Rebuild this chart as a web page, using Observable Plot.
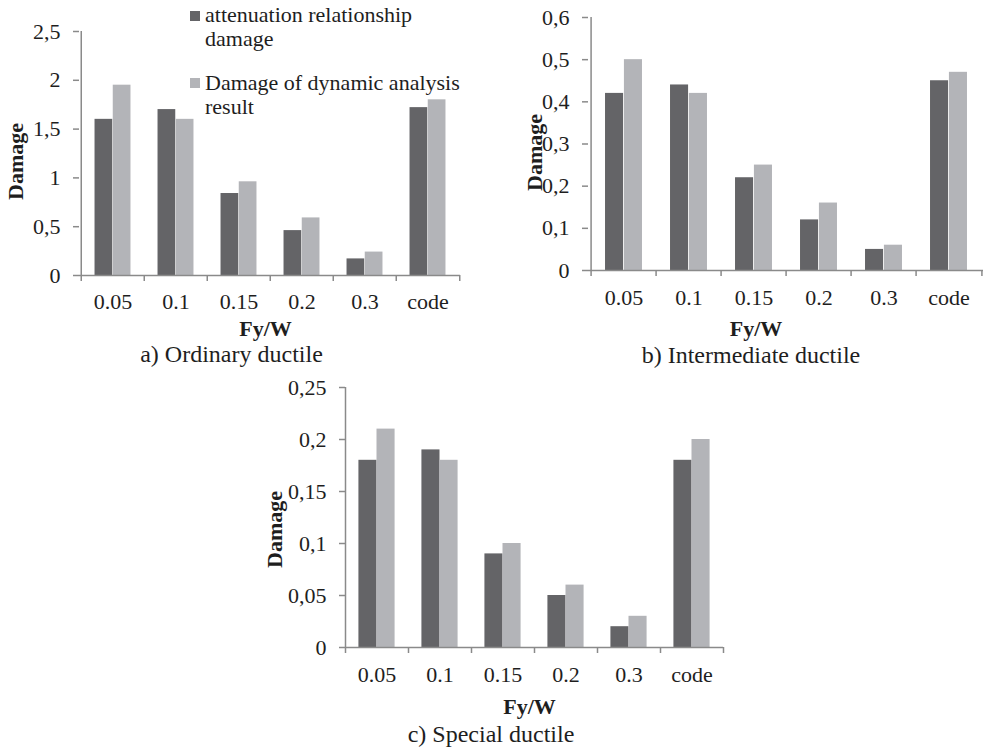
<!DOCTYPE html>
<html><head><meta charset="utf-8">
<script src="https://cdn.jsdelivr.net/npm/d3@7"></script>
<script src="https://cdn.jsdelivr.net/npm/@observablehq/plot@0.6"></script>
<style>
html,body{margin:0;padding:0;background:#fff;}
#root{position:relative;width:987px;height:748px;overflow:hidden;font-family:"Liberation Serif","Times New Roman",serif;color:#1e1e1e;}
.layer{position:absolute;left:0;top:0;width:987px;height:748px;}
.layer svg{background:transparent;}
.caption{position:absolute;font-size:24px;line-height:16px;text-align:center;white-space:nowrap;width:300px;}
.legend-item{position:absolute;font-size:22px;line-height:24px;width:262px;}
.swatch{position:absolute;width:10px;height:10px;}
</style></head><body><div id="root"></div>
<script>
// ---- data ----
const categories = ["0.05", "0.1", "0.15", "0.2", "0.3", "code"];
const seriesNames = ["attenuation relationship damage", "Damage of dynamic analysis result"];
const ordinaryAttenuation = [1.6, 1.7, 0.84, 0.46, 0.17, 1.72];
const ordinaryDynamic = [1.95, 1.6, 0.96, 0.59, 0.24, 1.8];
const intermediateAttenuation = [0.42, 0.44, 0.22, 0.12, 0.05, 0.45];
const intermediateDynamic = [0.5, 0.42, 0.25, 0.16, 0.06, 0.47];
const specialAttenuation = [0.18, 0.19, 0.09, 0.05, 0.02, 0.18];
const specialDynamic = [0.21, 0.18, 0.10, 0.06, 0.03, 0.20];
const ordinaryTicks = [0, 0.5, 1, 1.5, 2, 2.5];
const intermediateTicks = [0, 0.1, 0.2, 0.3, 0.4, 0.5, 0.6];
const specialTicks = [0, 0.05, 0.1, 0.15, 0.2, 0.25];
const captions = ["a) Ordinary ductile", "b) Intermediate ductile", "c) Special ductile"];
const xTitle = "Fy/W";
const yTitle = "Damage";

// ---- style ----
const colors = ["#646467", "#b3b4b8"];
const axisColor = "#8a8a8a";
const textColor = "#1e1e1e";
const FONT = "'Liberation Serif','Times New Roman',serif";
const W = 987, H = 748;
const fmt = d => d === 0 ? "0" : String(+d.toFixed(2)).replace(".", ",");

function panel(o) {
  const bw = (o.right - o.left) / categories.length;
  const rows = categories.map((c, i) => ({cat: c, att: o.att[i], dyn: o.dyn[i]}));
  const outer = bw * 0.213, barW = (bw - 2 * outer) / 2;
  return Plot.plot({
    width: W, height: H,
    marginLeft: o.left, marginRight: W - o.right, marginTop: o.top, marginBottom: H - o.bottom,
    style: {background: "transparent", fontFamily: FONT, fontSize: "22px", color: textColor},
    x: {type: "band", domain: categories, padding: 0},
    y: {domain: [0, o.ticks[o.ticks.length - 1]]},
    marks: [
      Plot.barY(rows, {x: "cat", y: "att", fill: colors[0], insetLeft: outer, insetRight: bw - outer - barW}),
      Plot.barY(rows, {x: "cat", y: "dyn", fill: colors[1], insetLeft: outer + barW, insetRight: outer}),
      Plot.ruleY([0], {stroke: axisColor, strokeWidth: 1.5}),
      Plot.ruleX([categories[0]], {dx: -bw / 2, stroke: axisColor, strokeWidth: 1.5}),
      Plot.ruleX(categories, {dx: -bw / 2, y1: 0, y2: 0, insetBottom: -6, stroke: axisColor, strokeWidth: 1.5}),
      Plot.ruleX([categories[categories.length - 1]], {dx: bw / 2, y1: 0, y2: 0, insetBottom: -6, stroke: axisColor, strokeWidth: 1.5}),
      Plot.axisY({ticks: o.ticks, tickSize: 6, tickPadding: 13, tickFormat: fmt, fontSize: 22, stroke: axisColor, strokeWidth: 1.5, fill: textColor, label: null}),
      Plot.axisX({tickSize: 0, tickPadding: o.xPad, fontSize: 22, fill: textColor, label: null}),
      Plot.text([xTitle], {frameAnchor: "bottom", dx: o.xtDx, dy: o.xtDy, fontWeight: "bold", fontSize: 22, fill: textColor, lineAnchor: "middle", textAnchor: "middle"}),
      Plot.text([yTitle], {frameAnchor: "left", rotate: -90, dx: o.ytDx, dy: o.ytDy, fontWeight: "bold", fontSize: 22, fill: textColor, lineAnchor: "middle", textAnchor: "middle"})
    ]
  });
}

const root = document.getElementById("root");
const panels = [
  {att: ordinaryAttenuation, dyn: ordinaryDynamic, ticks: ordinaryTicks, left: 79, right: 460, top: 31, bottom: 275, xPad: 18, xtDx: -4.5, xtDy: 53, ytDx: 15 - 79, ytDy: 8},
  {att: intermediateAttenuation, dyn: intermediateDynamic, ticks: intermediateTicks, left: 588, right: 983, top: 17, bottom: 270, xPad: 19, xtDx: -30, xtDy: 58, ytDx: 534 - 588, ytDy: 8.5},
  {att: specialAttenuation, dyn: specialDynamic, ticks: specialTicks, left: 345, right: 723, top: 387, bottom: 647, xPad: 19, xtDx: -5, xtDy: 59, ytDx: 274 - 345, ytDy: 12}
];
for (const p of panels) {
  const layer = document.createElement("div");
  layer.className = "layer";
  layer.appendChild(panel(p));
  root.appendChild(layer);
}

// captions
const capPos = [[231.5, 346], [751, 347], [491, 726]];
captions.forEach((t, i) => {
  const d = document.createElement("div");
  d.className = "caption";
  d.textContent = t;
  d.style.left = (capPos[i][0] - 150) + "px";
  d.style.top = capPos[i][1] + "px";
  root.appendChild(d);
});

// legend
const legPos = [[190, 11, 205, 3], [190, 78, 205, 71]];
seriesNames.forEach((name, i) => {
  const s = document.createElement("div");
  s.className = "swatch";
  s.style.left = legPos[i][0] + "px";
  s.style.top = legPos[i][1] + "px";
  s.style.background = colors[i];
  root.appendChild(s);
  const t = document.createElement("div");
  t.className = "legend-item";
  t.textContent = name;
  t.style.left = legPos[i][2] + "px";
  t.style.top = legPos[i][3] + "px";
  root.appendChild(t);
});
</script>
</body></html>
